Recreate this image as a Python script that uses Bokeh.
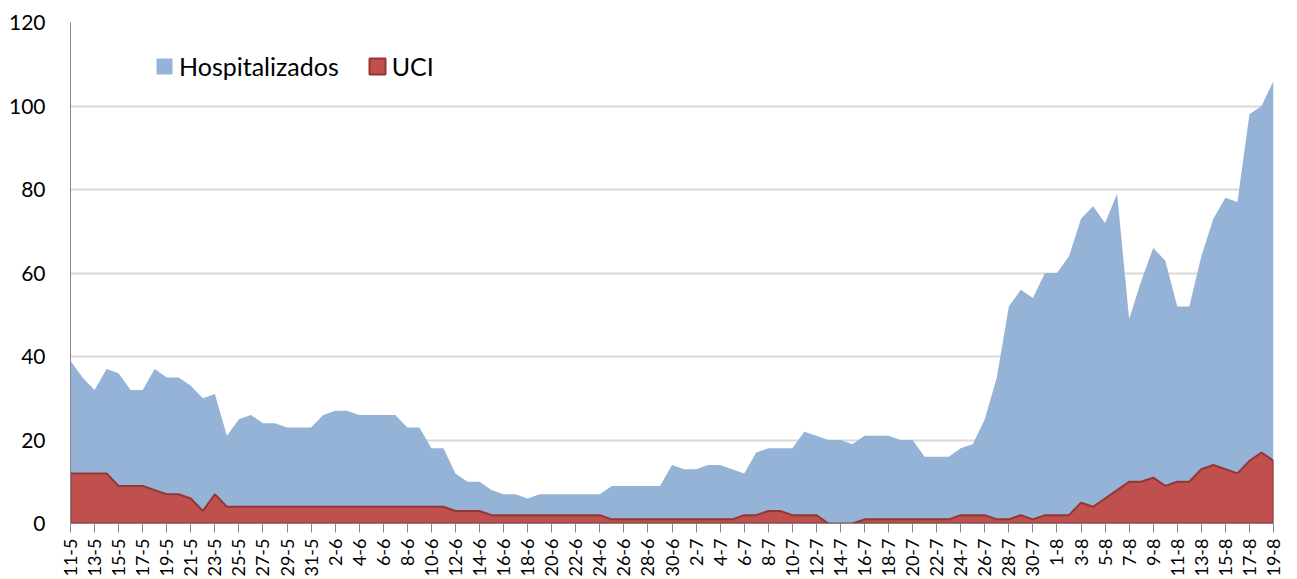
from bokeh.plotting import figure
from bokeh.models import Range1d, FixedTicker, Legend, LegendItem, ColumnDataSource
from bokeh.embed import file_html
from bokeh.resources import INLINE
import math

dates = [
    "11-5", "12-5", "13-5", "14-5", "15-5", "16-5", "17-5", "18-5", "19-5", "20-5",
    "21-5", "22-5", "23-5", "24-5", "25-5", "26-5", "27-5", "28-5", "29-5", "30-5", "31-5",
    "1-6", "2-6", "3-6", "4-6", "5-6", "6-6", "7-6", "8-6", "9-6", "10-6",
    "11-6", "12-6", "13-6", "14-6", "15-6", "16-6", "17-6", "18-6", "19-6", "20-6",
    "21-6", "22-6", "23-6", "24-6", "25-6", "26-6", "27-6", "28-6", "29-6", "30-6",
    "1-7", "2-7", "3-7", "4-7", "5-7", "6-7", "7-7", "8-7", "9-7", "10-7",
    "11-7", "12-7", "13-7", "14-7", "15-7", "16-7", "17-7", "18-7", "19-7", "20-7",
    "21-7", "22-7", "23-7", "24-7", "25-7", "26-7", "27-7", "28-7", "29-7", "30-7", "31-7",
    "1-8", "2-8", "3-8", "4-8", "5-8", "6-8", "7-8", "8-8", "9-8", "10-8",
    "11-8", "12-8", "13-8", "14-8", "15-8", "16-8", "17-8", "18-8", "19-8",
]

hospitalizados = [
    39, 35, 32, 37, 36, 32, 32, 37, 35, 35, 33, 30, 31,
    21, 25, 26, 24, 24, 23, 23, 23,
    26, 27, 27, 26, 26, 26, 26, 23, 23,
    18, 18, 12, 10, 10,
    8, 7, 7, 6, 7, 7, 7, 7, 7, 7,
    9, 9, 9, 9, 9,
    14, 13, 13, 14, 14, 13, 12,
    17, 18, 18, 18, 22, 21, 20, 20,
    19, 21, 21, 21, 20, 20, 16, 16, 16,
    18, 19, 25, 35,
    52, 56, 54, 60, 60, 64, 73, 76, 72, 79,
    49, 58, 66, 63, 52, 52, 64, 73, 78, 77,
    98, 100, 106,
]

uci = [
    12, 12, 12, 12, 9, 9, 9, 8, 7, 7, 6, 3, 7,
    4, 4, 4, 4, 4, 4, 4, 4, 4, 4, 4, 4, 4, 4, 4, 4, 4, 4, 4,
    3, 3, 3,
    2, 2, 2, 2, 2, 2, 2, 2, 2, 2,
    1, 1, 1, 1, 1, 1, 1, 1, 1, 1, 1,
    2, 2, 3, 3, 2, 2, 2,
    0, 0, 0,
    1, 1, 1, 1, 1, 1, 1, 1,
    2, 2, 2, 1, 1, 2, 1, 2, 2, 2,
    5, 4, 6, 8, 10, 10, 11, 9, 10, 10, 13, 14, 13, 12, 15, 17, 15,
]

y_ticks = [0, 20, 40, 60, 80, 100, 120]

idx = list(range(len(dates)))
src = ColumnDataSource(dict(x=idx, h=hospitalizados, zero=[0] * len(idx)))

FONT = "Lato"

p = figure(width=1297, height=579, output_backend="svg", toolbar_location=None,
           x_range=Range1d(0, len(dates) - 1), y_range=Range1d(0, 120),
           min_border_left=70, min_border_right=24, min_border_top=22,
           min_border_bottom=56)
p.outline_line_color = None
p.background_fill_color = "white"

hosp_r = p.varea(x="x", y1="zero", y2="h", source=src, fill_color="#95B3D7")
uci_xs = idx + [idx[-1], idx[0]]
uci_ys = uci + [0, 0]
uci_r = p.patch(uci_xs, uci_ys, fill_color="#C0504D", line_color="#943634",
                line_width=2)

# grid
p.xgrid.grid_line_color = None
p.ygrid.grid_line_color = "#D9D9D9"
p.ygrid.grid_line_width = 2
p.ygrid.ticker = FixedTicker(ticks=y_ticks)

# y axis
p.yaxis.ticker = FixedTicker(ticks=y_ticks)
p.yaxis.axis_line_color = "#868686"
p.yaxis.major_tick_line_color = None
p.yaxis.minor_tick_line_color = None
p.yaxis.major_tick_out = 0
p.yaxis.major_tick_in = 0
p.yaxis.major_label_standoff = 25
p.yaxis.major_label_text_font = FONT
p.yaxis.major_label_text_font_size = "21px"
p.yaxis.major_label_text_color = "black"

# x axis
p.xaxis.ticker = FixedTicker(ticks=idx[::2])
p.xaxis.major_label_overrides = {i: dates[i] for i in idx[::2]}
p.xaxis.major_label_orientation = math.pi / 2
p.xaxis.axis_line_color = "#868686"
p.xaxis.major_tick_line_color = "#868686"
p.xaxis.minor_tick_line_color = None
p.xaxis.major_tick_out = 9
p.xaxis.major_tick_in = 0
p.xaxis.major_label_standoff = 6
p.xaxis.major_label_text_font = FONT
p.xaxis.major_label_text_font_size = "18px"
p.xaxis.major_label_text_color = "black"

legend = Legend(items=[LegendItem(label="Hospitalizados", renderers=[hosp_r]),
                       LegendItem(label="UCI", renderers=[uci_r])],
                orientation="horizontal", location=(84, 442),
                glyph_width=20, glyph_height=20, label_standoff=5, spacing=28,
                padding=0, margin=0, border_line_alpha=0,
                background_fill_alpha=0,
                label_text_font=FONT, label_text_font_size="25px",
                label_text_color="black")
p.add_layout(legend)

open("out.html", "w").write(file_html(p, INLINE))
